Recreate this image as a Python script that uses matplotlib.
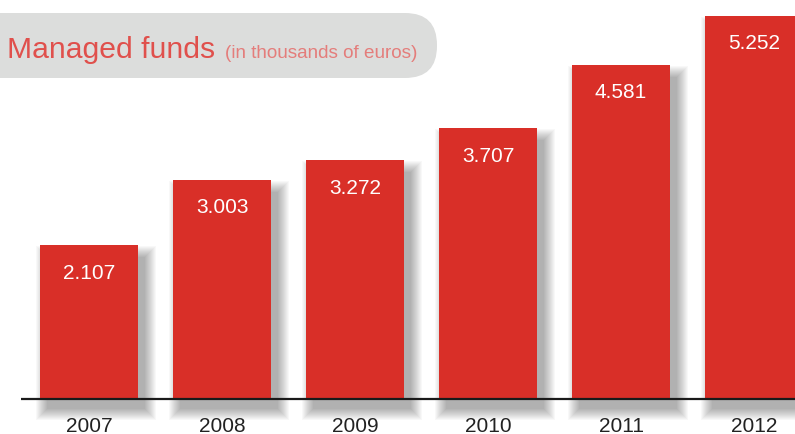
import matplotlib.pyplot as plt
from matplotlib.patches import Rectangle, FancyBboxPatch

years = ["2007", "2008", "2009", "2010", "2011", "2012"]
funds = [2.107, 3.003, 3.272, 3.707, 4.581, 5.252]
labels = ["2.107", "3.003", "3.272", "3.707", "4.581", "5.252"]

BAR_RED = "#d92f28"
PX_X = 1 / 133.0  # data units per pixel, x
PX_Y = 1 / 73.0   # data units per pixel, y


def main() -> None:
    fig = plt.figure(figsize=(7.95, 4.34), dpi=100)
    ax = fig.add_axes([0, 0, 1, 1])
    ax.set_xlim(-89 * PX_X, (795 - 89) * PX_X)
    ax.set_ylim(-35 * PX_Y, 399 * PX_Y)
    ax.axis("off")

    width = 98 * PX_X
    xs = list(range(len(years)))

    # soft drop shadow built from stacked translucent rectangles
    for i, v in zip(xs, funds):
        x0 = i - width / 2
        for s in range(0, 12):
            ax.add_patch(Rectangle(
                (x0 + (7 - s) * PX_X, -(10 + s) * PX_Y),
                width + 2 * s * PX_X, v + 2 * s * PX_Y - 2 * PX_Y,
                facecolor="black", alpha=0.026, linewidth=0, zorder=1))

    ax.bar(xs, funds, width=width, color=BAR_RED, zorder=3)
    ax.plot([-68 * PX_X, 5.4], [0, 0], color="#1a1a1a", lw=1.6, zorder=4,
            solid_capstyle="butt")

    for i, v, lab in zip(xs, funds, labels):
        ax.text(i, v - 28 * PX_Y, lab, ha="center", va="center", color="white",
                fontsize=15, family="Liberation Sans", zorder=5)
    for i, yr in zip(xs, years):
        ax.text(i, -27 * PX_Y, yr, ha="center", va="center", color="#222222",
                fontsize=15, family="Liberation Sans", zorder=5)

    # title box
    box = FancyBboxPatch((-0.9, (399 - 78) * PX_Y), (437 - 89) * PX_X + 0.9,
                         65 * PX_Y, boxstyle="round,pad=0,rounding_size=0.24",
                         mutation_aspect=133 / 73.0,
                         facecolor="#dcdddc", edgecolor="none", zorder=2)
    ax.add_patch(box)
    fig.text(7 / 795, 1 - 58 / 434, "Managed funds", color="#e0504c",
             fontsize=21.7, family="Liberation Sans", va="baseline")
    fig.text(225 / 795, 1 - 58 / 434, "(in thousands of euros)", color="#e47d7b",
             fontsize=13.6, family="Liberation Sans", va="baseline")

    fig.savefig("out.png", dpi=100)


if __name__ == "__main__":
    main()
